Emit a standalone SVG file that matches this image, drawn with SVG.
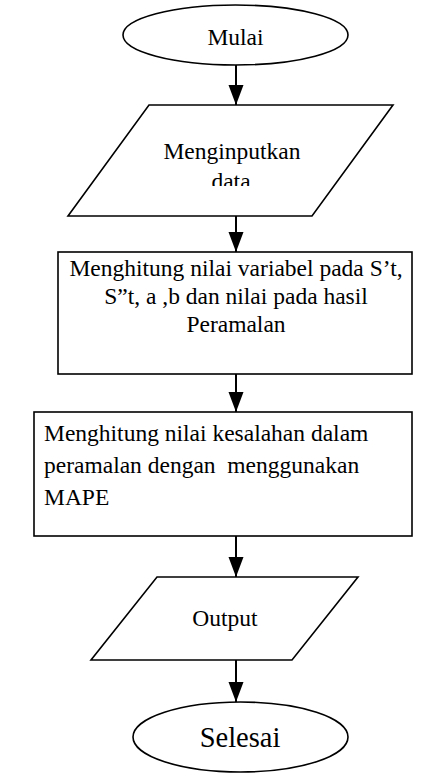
<svg xmlns="http://www.w3.org/2000/svg" width="445" height="775" viewBox="0 0 445 775">
<style>
.s{fill:#fff;stroke:#000;stroke-width:1.6}
.t{font-family:'Liberation Serif','Times New Roman','DejaVu Serif',serif;font-size:23.5px;fill:#000}
.c{stroke:#000;stroke-width:2;fill:none}
</style>
<defs>
<marker id="ah" markerUnits="userSpaceOnUse" markerWidth="20" markerHeight="16" refX="20" refY="7.5" orient="auto">
<path d="M0,0 L20,7.5 L0,15 Z" fill="#000"/>
</marker>
<clipPath id="clipData"><rect x="60" y="100" width="340" height="86"/></clipPath>
</defs>
<g id="n-mulai">
<ellipse class="s" cx="235.5" cy="35" rx="112.5" ry="30"/>
<text class="t" x="235.5" y="44.5" text-anchor="middle">Mulai</text>
</g>
<g id="n-input">
<polygon class="s" points="149,105 393,105 312,216 68,216"/>
<g clip-path="url(#clipData)">
<text class="t" x="232" y="159" text-anchor="middle">Menginputkan</text>
<text class="t" x="231" y="189" text-anchor="middle">data</text>
</g>
</g>
<g id="n-hitung">
<rect class="s" x="58" y="252" width="354" height="122"/>
<text class="t" x="236" y="276" text-anchor="middle">Menghitung nilai variabel pada S’t,</text>
<text class="t" x="236" y="304" text-anchor="middle">S”t, a ,b dan nilai pada hasil</text>
<text class="t" x="236" y="332" text-anchor="middle">Peramalan</text>
</g>
<g id="n-mape">
<rect class="s" x="34" y="412" width="378" height="124"/>
<text class="t" x="44" y="441">Menghitung nilai kesalahan dalam</text>
<text class="t" x="44" y="473" xml:space="preserve">peramalan dengan  menggunakan</text>
<text class="t" x="44" y="505">MAPE</text>
</g>
<g id="n-output">
<polygon class="s" points="157,577 358,577 292,660 91,660"/>
<text class="t" x="225" y="626" text-anchor="middle">Output</text>
</g>
<g id="n-selesai">
<ellipse class="s" cx="240.5" cy="737" rx="107.5" ry="35"/>
<text class="t" x="240" y="747" text-anchor="middle" style="font-size:28.5px">Selesai</text>
</g>
<g id="connectors">
<line class="c" x1="236" y1="65" x2="236" y2="105" marker-end="url(#ah)"/>
<line class="c" x1="236" y1="216" x2="236" y2="252" marker-end="url(#ah)"/>
<line class="c" x1="236" y1="374" x2="236" y2="412" marker-end="url(#ah)"/>
<line class="c" x1="236" y1="536" x2="236" y2="577" marker-end="url(#ah)"/>
<line class="c" x1="236" y1="660" x2="236" y2="702" marker-end="url(#ah)"/>
</g>
</svg>
